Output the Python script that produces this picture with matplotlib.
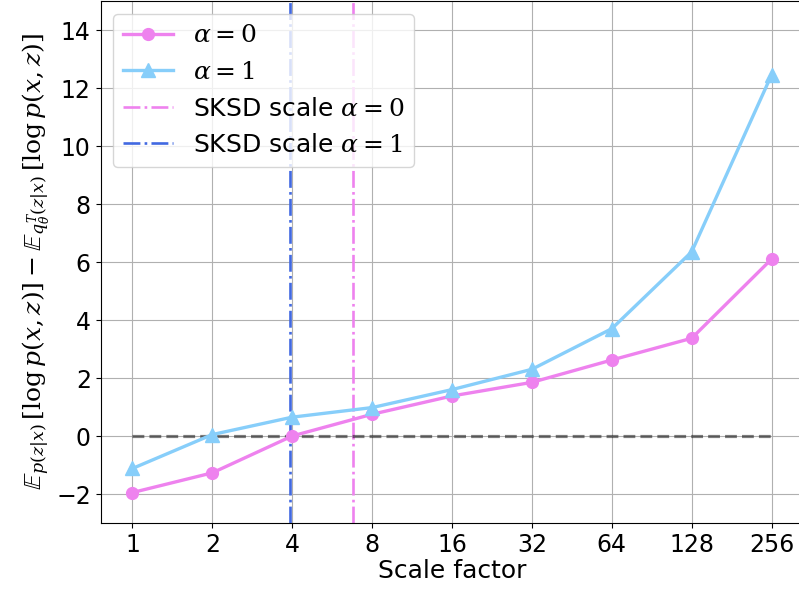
import numpy as np
import matplotlib
matplotlib.use("Agg")
import matplotlib.pyplot as plt

plt.rcParams['mathtext.fontset'] = 'dejavuserif'

scales = [1, 2, 4, 8, 16, 32, 64, 128, 256]
tick_labels = ['1', '2', '4', '8', '16', '32', '64', '128', '256']
alpha0 = [-1.95, -1.27, 0.0, 0.75, 1.38, 1.85, 2.62, 3.37, 6.1]
alpha1 = [-1.12, 0.05, 0.65, 0.98, 1.6, 2.3, 3.7, 6.35, 12.45]
sksd_scale_a0 = 6.75
sksd_scale_a1 = 3.92

fig = plt.figure(figsize=(7.99, 5.94), dpi=100)
ax = fig.add_axes([100.5/799, 71/594, 703/799, 522/594])

x = np.log2(scales)
ax.plot(x, alpha0, '-o', color='violet', lw=2.4, ms=8.5, label=r'$\alpha=0$', zorder=3)
ax.plot(x, alpha1, '-^', color='lightskyblue', lw=2.4, ms=10.5, label=r'$\alpha=1$', zorder=3)
ax.axvline(np.log2(sksd_scale_a0), color='violet', ls='-.', lw=1.9, label=r'SKSD scale $\alpha=0$')
ax.axvline(np.log2(sksd_scale_a1), color='royalblue', ls='-.', lw=1.9, label=r'SKSD scale $\alpha=1$')
ax.plot([x[0], x[-1]], [0, 0], '--', color='k', alpha=0.5, lw=2.3)

ax.set_xticks(x)
ax.set_xticklabels(tick_labels)
ax.set_xlim(-0.4, 8.4)
ax.set_ylim(-3, 15)
ax.set_yticks([-2, 0, 2, 4, 6, 8, 10, 12, 14])
ax.tick_params(labelsize=17)
ax.grid(True, color='#b0b0b0')
ax.set_axisbelow(True)
ax.set_xlabel('Scale factor', fontsize=18, labelpad=2)
ax.set_ylabel(r'$\mathbb{E}_{p(z|x)}\,[\log p(x,z)] - \mathbb{E}_{q_\theta^T(z|x)}\,[\log p(x,z)]$', fontsize=18, labelpad=3)
ax.legend(loc='upper left', fontsize=18)

fig.savefig('out.png', dpi=100)
